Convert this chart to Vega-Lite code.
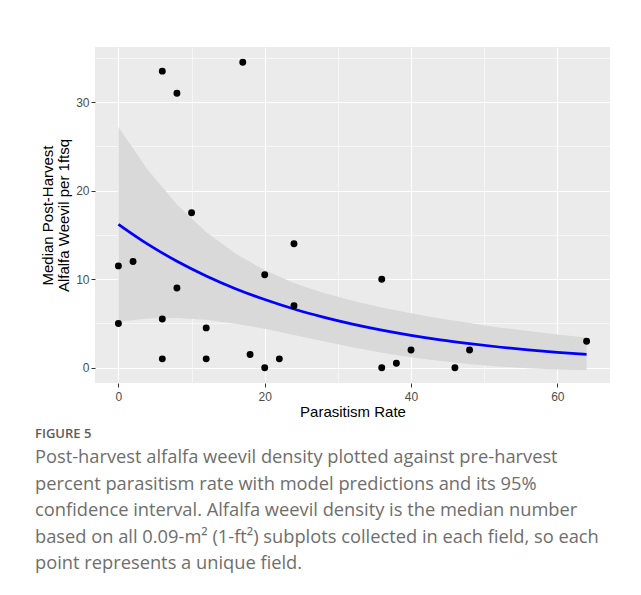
{
  "$schema": "https://vega.github.io/schema/vega-lite/v6.json",
  "autosize": "none",
  "width": 515,
  "height": 336,
  "padding": {"left": 95, "top": 47, "right": 31, "bottom": 212},
  "background": "white",
  "config": {
    "view": {"fill": "#EBEBEB", "stroke": null},
    "axis": {
      "domain": false,
      "gridColor": "white",
      "tickColor": "#333333",
      "tickSize": 4,
      "labelColor": "#4D4D4D",
      "labelFont": "Liberation Sans",
      "labelFontSize": 12,
      "labelPadding": 2,
      "titleFont": "Liberation Sans",
      "titleFontSize": 15,
      "titleFontWeight": "normal",
      "titleColor": "black"
    }
  },
  "title": {
    "text": "FIGURE 5",
    "subtitle": [
      "Post-harvest alfalfa weevil density plotted against pre-harvest",
      "percent parasitism rate with model predictions and its 95%",
      "confidence interval. Alfalfa weevil density is the median number",
      "based on all 0.09-m² (1-ft²) subplots collected in each field, so each",
      "point represents a unique field."
    ],
    "orient": "bottom",
    "anchor": "start",
    "frame": "group",
    "dx": -60,
    "offset": 9,
    "font": "Open Sans",
    "fontSize": 13,
    "fontWeight": 600,
    "color": "#5c5c5c",
    "subtitleFont": "Open Sans",
    "subtitleFontSize": 18.3,
    "subtitleColor": "#6e6e6e",
    "subtitleLineHeight": 26.5,
    "subtitlePadding": 8
  },
  "datasets": {
    "points": [
      {"rate": 0, "weevil": 11.5}, {"rate": 0, "weevil": 5}, {"rate": 2, "weevil": 12},
      {"rate": 6, "weevil": 33.5}, {"rate": 6, "weevil": 5.5}, {"rate": 6, "weevil": 1},
      {"rate": 8, "weevil": 31}, {"rate": 8, "weevil": 9}, {"rate": 10, "weevil": 17.5},
      {"rate": 12, "weevil": 4.5}, {"rate": 12, "weevil": 1}, {"rate": 17, "weevil": 34.5},
      {"rate": 18, "weevil": 1.5}, {"rate": 20, "weevil": 10.5}, {"rate": 20, "weevil": 0},
      {"rate": 22, "weevil": 1}, {"rate": 24, "weevil": 14}, {"rate": 24, "weevil": 7},
      {"rate": 36, "weevil": 10}, {"rate": 36, "weevil": 0}, {"rate": 38, "weevil": 0.5},
      {"rate": 40, "weevil": 2}, {"rate": 46, "weevil": 0}, {"rate": 48, "weevil": 2},
      {"rate": 64, "weevil": 3}
    ],
    "curve": [
      {"rate": 0, "fit": 16.2, "lo": 5.2, "hi": 27.2},
      {"rate": 4, "fit": 13.96, "lo": 5.57, "hi": 22.35},
      {"rate": 8, "fit": 12.03, "lo": 5.61, "hi": 18.45},
      {"rate": 12, "fit": 10.37, "lo": 5.41, "hi": 15.33},
      {"rate": 16, "fit": 8.93, "lo": 4.97, "hi": 12.89},
      {"rate": 20, "fit": 7.7, "lo": 4.39, "hi": 11.01},
      {"rate": 24, "fit": 6.63, "lo": 3.69, "hi": 9.57},
      {"rate": 28, "fit": 5.72, "lo": 2.98, "hi": 8.46},
      {"rate": 32, "fit": 4.93, "lo": 2.3, "hi": 7.56},
      {"rate": 36, "fit": 4.25, "lo": 1.7, "hi": 6.8},
      {"rate": 40, "fit": 3.66, "lo": 1.17, "hi": 6.15},
      {"rate": 44, "fit": 3.15, "lo": 0.75, "hi": 5.55},
      {"rate": 48, "fit": 2.72, "lo": 0.4, "hi": 5.04},
      {"rate": 52, "fit": 2.34, "lo": 0.13, "hi": 4.55},
      {"rate": 56, "fit": 2.02, "lo": -0.06, "hi": 4.14},
      {"rate": 60, "fit": 1.74, "lo": -0.19, "hi": 3.76},
      {"rate": 64, "fit": 1.5, "lo": -0.28, "hi": 3.42}
    ]
  },
  "layer": [
    {
      "data": {"name": "curve"},
      "mark": {"type": "area", "color": "#D9D9D9", "opacity": 1},
      "encoding": {
        "x": {
          "field": "rate", "type": "quantitative",
          "scale": {"domain": [-3.2, 67.2], "nice": false, "zero": false},
          "axis": {
            "title": "Parasitism Rate",
            "titlePadding": 2,
            "labelPadding": 4,
            "values": [0, 10, 20, 30, 40, 50, 60],
            "labelExpr": "datum.value % 20 === 0 ? datum.label : ''",
            "tickOpacity": {"condition": {"test": "datum.value % 20 !== 0", "value": 0}, "value": 1},
            "gridWidth": {"condition": {"test": "datum.value % 20 !== 0", "value": 0.55}, "value": 1.1}
          }
        },
        "y": {
          "field": "lo", "type": "quantitative",
          "scale": {"domain": [-1.725, 36.225], "nice": false, "zero": false},
          "axis": {
            "title": ["Median Post-Harvest", "Alfalfa Weevil per 1ftsq"],
            "titlePadding": 4,
            "titleLineHeight": 16,
            "values": [0, 5, 10, 15, 20, 25, 30, 35],
            "labelExpr": "datum.value % 10 === 0 ? datum.label : ''",
            "tickOpacity": {"condition": {"test": "datum.value % 10 !== 0", "value": 0}, "value": 1},
            "gridWidth": {"condition": {"test": "datum.value % 10 !== 0", "value": 0.55}, "value": 1.1}
          }
        },
        "y2": {"field": "hi"}
      }
    },
    {
      "data": {"name": "curve"},
      "mark": {"type": "line", "color": "#0000FF", "strokeWidth": 2.7, "interpolate": "monotone"},
      "encoding": {
        "x": {"field": "rate", "type": "quantitative"},
        "y": {"field": "fit", "type": "quantitative"}
      }
    },
    {
      "data": {"name": "points"},
      "mark": {"type": "circle", "color": "black", "opacity": 1, "size": 48},
      "encoding": {
        "x": {"field": "rate", "type": "quantitative"},
        "y": {"field": "weevil", "type": "quantitative"}
      }
    }
  ]
}
